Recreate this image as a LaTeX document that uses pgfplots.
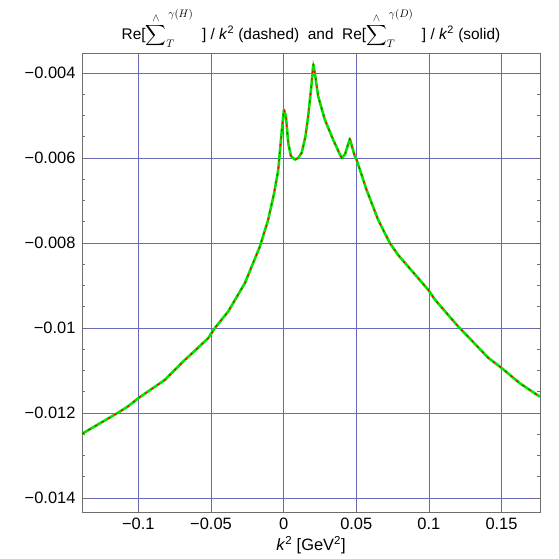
\documentclass[border=0pt]{standalone}
\usepackage{pgfplots}
\pgfplotsset{compat=1.18}
\usepackage{amsmath}
\usepackage{fontspec}
\setmainfont{Liberation Sans}
\definecolor{gridblue}{RGB}{105,105,185}
\definecolor{framegray}{RGB}{110,110,110}
\definecolor{cgreen}{RGB}{0,230,0}
\definecolor{cred}{RGB}{255,0,0}
\newcommand{\hsum}[1]{\ensuremath{\displaystyle\mathop{\overset{\wedge}{\sum}}\nolimits_{\scriptstyle T}^{\,\gamma(#1)}}}
\begin{document}
\begin{tikzpicture}
\begin{axis}[
  scale only axis,
  width=458bp, height=459bp,
  xmin=-0.1388, xmax=0.1765,
  ymin=-0.01433, ymax=-0.00353,
  scaled ticks=false,
  xtick={-0.1,-0.05,0.05,0.1,0.15},
  xticklabels={−0.1,−0.05,0.05,0.1,0.15},
  extra x ticks={0},
  extra x tick labels={0},
  extra x tick style={grid style={black!80, line width=0.6bp}},
  ytick={-0.014,-0.012,-0.010,-0.008,-0.006,-0.004},
  yticklabels={−0.014,−0.012,−0.01,−0.008,−0.006,−0.004},
  minor x tick num=4,
  minor y tick num=3,
  grid=major,
  major grid style={gridblue, line width=0.6bp},
  axis line style={framegray, line width=0.8bp},
  every tick/.style={framegray, line width=0.5bp},
  major tick length=5bp,
  minor tick length=3bp,
  tick align=inside,
  xtick pos=both, ytick pos=both,
  tick label style={font=\fontsize{16.5}{18}\selectfont},
  xticklabel style={yshift=-3bp},
  yticklabel style={xshift=-3bp},
  xlabel={\textit{k}\textsuperscript{2} [GeV\textsuperscript{2}]},
  xlabel style={font=\fontsize{16.5}{18}\selectfont, yshift=1bp},
  title={Re[\hsum{H}\ \ ] / \textit{k}\textsuperscript{2} (dashed) \ and \ Re[\hsum{D}\ \ ] / \textit{k}\textsuperscript{2} (solid)},
  title style={font=\fontsize{15.5}{18}\selectfont, yshift=-4bp},
]
\pgfplotstableread{
x y
-0.1388 -0.01249
-0.1138 -0.01199
-0.1069 -0.01184
-0.1000 -0.01165
-0.0817 -0.01122
-0.0679 -0.01075
-0.0519 -0.01024
-0.0473 -0.01000
-0.0381 -0.00961
-0.0266 -0.00894
-0.0163 -0.00808
-0.0106 -0.00745
-0.0065 -0.00682
-0.0037 -0.00628
-0.0014 -0.00541
0.0002 -0.00486
0.0016 -0.00502
0.0032 -0.00565
0.0050 -0.00595
0.0078 -0.00604
0.0100 -0.00600
0.0124 -0.00588
0.0150 -0.00550
0.0169 -0.00502
0.0193 -0.00424
0.0204 -0.00380
0.0215 -0.00400
0.0238 -0.00455
0.0284 -0.00510
0.0341 -0.00557
0.0399 -0.00600
0.0422 -0.00592
0.0456 -0.00555
0.0490 -0.00596
0.0502 -0.00604
0.0571 -0.00675
0.0650 -0.00745
0.0731 -0.00800
0.0788 -0.00828
0.0995 -0.00910
0.1041 -0.00933
0.1190 -0.00992
0.1408 -0.01070
0.1500 -0.01094
0.1626 -0.01130
0.1765 -0.01162
}\curvedata
\addplot[cgreen, line width=2.6bp, line join=round] table {\curvedata};
\addplot[cred, line width=1.2bp, dash pattern=on 2.5bp off 5bp] table {\curvedata};
\end{axis}
\path (current axis.south west) ++(-82bp,-47bp) rectangle ++(559bp,559bp);
\end{tikzpicture}
\end{document}
